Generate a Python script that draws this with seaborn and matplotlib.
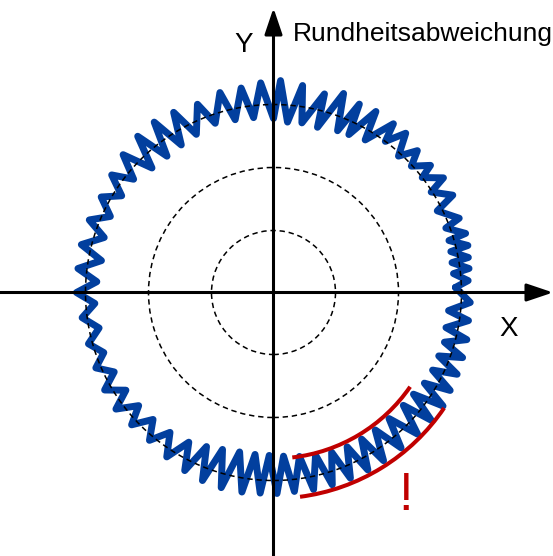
import numpy as np
import pandas as pd
import seaborn as sns
import matplotlib.pyplot as plt
from matplotlib.patches import Circle, Arc

# wave extremes, alternating trough / peak, counter-clockwise
# (angle in degrees from +x axis, radius in picture pixels)
wave_angle = [
    1.6, 3.5, 6.0, 7.0, 9.5, 10.2, 13.0, 13.6, 16.5, 17.1, 20.5, 21.8, 26.5, 28.5,
    32.5, 34.0, 37.7, 39.0, 42.5, 44.6, 47.5, 50.3, 53.5, 54.6, 59.0, 60.5,
    64.5, 65.5, 68.4, 70.6, 75.1, 75.6, 80.5, 82.0, 85.3, 88.1, 90.0, 93.5,
    96.5, 99.0, 102.5, 105.0, 109.0, 112.0, 116.0, 119.0, 122.0, 125.0, 128.0, 131.0,
    134.3, 137.5, 141.0, 144.0, 147.5, 151.0, 155.0, 158.5, 162.0, 166.0, 169.5, 173.0,
    176.5, 180.0, 183.5, 187.5, 191.5, 195.5, 199.5, 203.0, 206.5, 210.0, 213.5, 216.5,
    220.0, 223.0, 226.5, 230.0, 233.5, 237.0, 240.5, 243.5, 246.5, 249.3, 252.0, 255.0,
    258.0, 261.0, 263.5, 266.2, 268.5, 271.0, 273.5, 276.0, 279.0, 281.5, 284.5, 287.0,
    290.0, 292.5, 295.5, 298.0, 301.0, 303.2, 306.5, 309.4, 312.5, 315.5, 319.0, 321.0,
    324.0, 326.2, 329.0, 331.0, 334.0, 336.0, 339.0, 341.0, 343.8, 346.3, 348.5, 351.8,
    354.1, 357.1,
]
wave_radius = [
    182, 195, 181, 197, 181, 198, 182, 200, 183, 201, 184, 200, 183, 204,
    187, 205, 188, 202, 187, 202, 185, 207, 188, 207, 178, 208,
    175, 207, 174, 211, 171, 205, 172, 209, 171, 212, 174, 210,
    176, 207, 177, 207, 179, 203, 176, 206, 174, 208, 173, 207,
    174, 204, 180, 200, 180, 197, 180, 198, 178, 198, 175, 197,
    177, 197, 179, 193, 178, 192, 180, 193, 178, 195, 177, 196,
    176, 194, 175, 193, 174, 196, 172, 199, 168, 201, 165, 202,
    163, 202, 163, 201, 163, 201, 164, 200, 166, 201, 168, 201,
    170, 201, 171, 201, 171, 201, 171, 201, 171, 202, 172, 203,
    173, 204, 176, 202, 177, 201, 177, 200, 178, 199, 176, 197,
    176, 197,
]

ref_radii = [62, 125, 188]          # dashed reference circles
mark_radii = [166, 206]             # red brackets
mark_span = [(-83.5, -34.6), (-82.6, -34.1)]

wave_df = pd.DataFrame({"angle": wave_angle + wave_angle[:1],
                        "r": wave_radius + wave_radius[:1]})
wave_df["x"] = wave_df["r"] * np.cos(np.radians(wave_df["angle"]))
wave_df["y"] = wave_df["r"] * np.sin(np.radians(wave_df["angle"]))

sns.set_style("white")
plt.rcParams["font.family"] = ["Liberation Sans", "DejaVu Sans"]
plt.rcParams["text.color"] = "black"

fig = plt.figure(figsize=(5.53, 5.56), dpi=100)
ax = fig.add_axes([0, 0, 1, 1])
ax.set_xlim(-273.5, 279.5)
ax.set_ylim(-263.5, 292.5)
ax.axis("off")

sns.lineplot(data=wave_df, x="x", y="y", sort=False, estimator=None,
             color="#023F9E", lw=5.0, ax=ax, zorder=2)
ax.lines[-1].set_solid_joinstyle("round")
ax.lines[-1].set_solid_capstyle("round")

for r in ref_radii:
    ax.add_patch(Circle((0, 0), r, fill=False, ec="black", lw=1.1,
                        ls=(0, (3.5, 2.5)), zorder=3))

for r, (a0, a1) in zip(mark_radii, mark_span):
    ax.add_patch(Arc((0, 0), 2 * r, 2 * r, theta1=a0, theta2=a1,
                     color="#C00000", lw=2.9, zorder=2))

arrow = dict(arrowstyle="-|>,head_length=0.8,head_width=0.27", color="black",
             lw=2.2, mutation_scale=20, shrinkA=0, shrinkB=0)
ax.annotate("", xy=(279.5, 0), xytext=(-273.5, 0), arrowprops=arrow,
            annotation_clip=False, zorder=4)
ax.annotate("", xy=(0, 284.5), xytext=(0, -263.5), arrowprops=arrow,
            annotation_clip=False, zorder=4)

ax.text(-30, 240, "Y", fontsize=20, color="black", ha="center", va="baseline")
ax.text(235, -43, "X", fontsize=20, color="black", ha="center", va="baseline")
ax.text(19.5, 252, "Rundheitsabweichung", fontsize=19, color="black",
        ha="left", va="baseline")
ax.text(132, -218, "!", fontsize=38, color="#C00000", ha="center", va="baseline")

fig.savefig("out.png", dpi=100)
